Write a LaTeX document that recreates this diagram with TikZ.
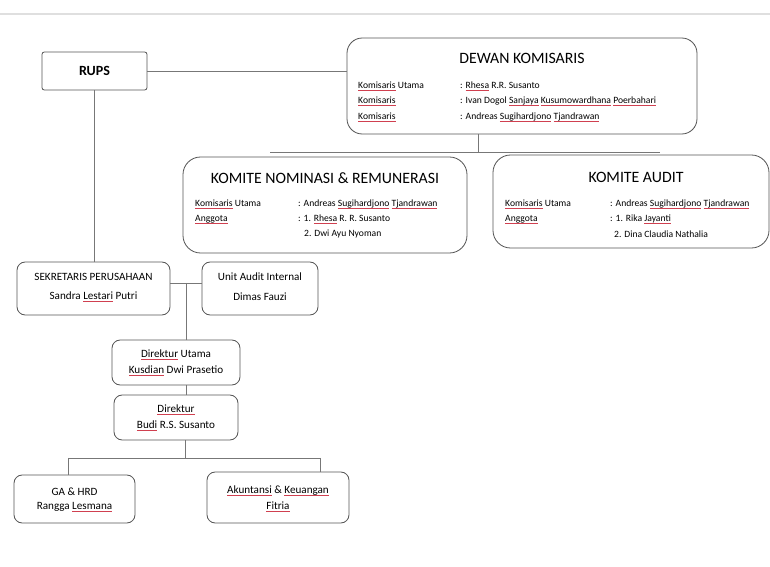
\documentclass[tikz,border=0pt]{standalone}
\usepackage{fontspec}
\setmainfont{Carlito}
\usepackage{xcolor}
\definecolor{frame}{HTML}{555555}
\definecolor{squigred}{HTML}{D04050}
\usetikzlibrary{calc}
% red spell-check underline
\newcommand\squig[1]{{\setbox0\hbox{#1}\rlap{\color{squigred}\rule[-0.45ex]{\wd0}{0.5pt}}\box0}}
\tikzset{
  orgbox/.style={draw=frame, line width=0.7pt, rounded corners=7pt, fill=white, inner sep=0pt},
  row/.style={anchor=west, font=\fontsize{8.2}{9}\selectfont, inner sep=0pt},
  title/.style={font=\fontsize{13.5}{15}\selectfont, inner sep=0pt},
  small/.style={font=\fontsize{9.5}{11}\selectfont, inner sep=0pt},
  link/.style={draw=frame!80, line width=0.6pt}
}

\begin{document}
\begin{tikzpicture}[x=0.03cm, y=-0.03cm]
  \useasboundingbox (0,0) rectangle (770,567);
  % caption separator at the top
  \draw[gray!25, line width=1.5pt] (0,14) -- (770,14);

  % Boxes (pixel grid, y downward).
  \node[orgbox, rounded corners=2pt, minimum width=105*0.03cm, minimum height=38*0.03cm] (rups) at (94.5,71) {};
  \node[orgbox, rounded corners=13pt, minimum width=350*0.03cm, minimum height=96*0.03cm] (dk) at (522,86) {};
  \node[orgbox, rounded corners=15pt, minimum width=284*0.03cm, minimum height=96*0.03cm] (knr) at (325,205) {};
  \node[orgbox, rounded corners=15pt, minimum width=276*0.03cm, minimum height=93*0.03cm] (ka) at (631,201.5) {};
  \node[orgbox, minimum width=153*0.03cm, minimum height=53*0.03cm] (sp) at (93.5,288.5) {};
  \node[orgbox, minimum width=116*0.03cm, minimum height=53*0.03cm] (uai) at (260,288.5) {};
  \node[orgbox, minimum width=128*0.03cm, minimum height=45*0.03cm] (du) at (176,362.5) {};
  \node[orgbox, minimum width=124*0.03cm, minimum height=45*0.03cm] (dir) at (176,417.5) {};
  \node[orgbox, minimum width=121*0.03cm, minimum height=48*0.03cm] (ga) at (74.5,499) {};
  \node[orgbox, minimum width=142*0.03cm, minimum height=51*0.03cm] (ak) at (278,497.5) {};

  % Junctions.
  \coordinate (kj) at (478,152);
  \coordinate (kl) at (270,152);
  \coordinate (kr) at (660,152);
  \coordinate (sj) at (186,283);
  \coordinate (dj) at (185,458);
  \coordinate (dl) at (68,458);
  \coordinate (dr) at (320,458);

  % Connectors.
  \draw[link] (rups.east) -- (rups.east -| dk.west);
  \draw[link] (kj |- dk.south) -- (kj);
  \draw[link] (kl) -- (kr);
  \draw[link] (rups.south) -- (rups.south |- sp.north);
  \draw[link] (sp.east |- sj) -- (uai.west |- sj);
  \draw[link] (sj) -- (sj |- du.north);
  \draw[link] (sj |- du.south) -- (sj |- dir.north);
  \draw[link] (dj |- dir.south) -- (dj);
  \draw[link] (dl) -- (dr);
  \draw[link] (dl) -- (dl |- ga.north);
  \draw[link] (dr) -- (dr |- ak.north);

  % RUPS.
  \node[font=\fontsize{12}{13}\selectfont\bfseries, inner sep=0pt] (rupsT) at (rups) {RUPS};

  % Dewan Komisaris.
  \node[title] (dkT) at (522,58) {DEWAN KOMISARIS};
  \node[row] (dk1) at (358,86)  {\squig{Komisaris} Utama};
  \node[row] (dk2) at (358,101) {\squig{Komisaris}};
  \node[row] (dk3) at (358,117) {\squig{Komisaris}};
  \node[row] (dk1v) at (460,86)  {: \squig{Rhesa} R.R. Susanto};
  \node[row] (dk2v) at (460,101) {: Ivan Dogol \squig{Sanjaya} \squig{Kusumowardhana} \squig{Poerbahari}};
  \node[row] (dk3v) at (460,117) {: Andreas \squig{Sugihardjono} \squig{Tjandrawan}};

  % Komite Nominasi & Remunerasi.
  \node[title] (knrT) at (325,178) {KOMITE NOMINASI \& REMUNERASI};
  \node[row] (knr1) at (195,204) {\squig{Komisaris} Utama};
  \node[row] (knr2) at (195,219) {\squig{Anggota}};
  \node[row] (knr1v) at (298,204) {: Andreas \squig{Sugihardjono} \squig{Tjandrawan}};
  \node[row] (knr2v) at (298,219) {: 1. \squig{Rhesa} R. R. Susanto};
  \node[row] (knr3v) at (304,234) {2. Dwi Ayu Nyoman};

  % Komite Audit.
  \node[title] (kaT) at (636,177) {KOMITE AUDIT};
  \node[row] (ka1) at (505,204) {\squig{Komisaris} Utama};
  \node[row] (ka2) at (505,219) {\squig{Anggota}};
  \node[row] (ka1v) at (610,204) {: Andreas \squig{Sugihardjono} \squig{Tjandrawan}};
  \node[row] (ka2v) at (610,219) {: 1. Rika \squig{Jayanti}};
  \node[row] (ka3v) at (614,234) {2. Dina Claudia Nathalia};

  % Lower boxes.
  \node[small] (spT) at (93.5,277) {SEKRETARIS PERUSAHAAN};
  \node[small] (spN) at (93.5,297) {Sandra \squig{Lestari} Putri};
  \node[small] (uaiT) at (260,277) {Unit Audit Internal};
  \node[small] (uaiN) at (260,297) {Dimas Fauzi};
  \node[small] (duT) at (176,355) {\squig{Direktur} Utama};
  \node[small] (duN) at (176,371) {\squig{Kusdian} Dwi Prasetio};
  \node[small] (dirT) at (176,410) {\squig{Direktur}};
  \node[small] (dirN) at (176,426) {\squig{Budi} R.S. Susanto};
  \node[small] (gaT) at (74.5,492) {GA \& HRD};
  \node[small] (gaN) at (74.5,507) {Rangga \squig{Lesmana}};
  \node[small] (akT) at (278,491) {\squig{Akuntansi} \& \squig{Keuangan}};
  \node[small] (akN) at (278,507) {\squig{Fitria}};
\end{tikzpicture}
\end{document}
